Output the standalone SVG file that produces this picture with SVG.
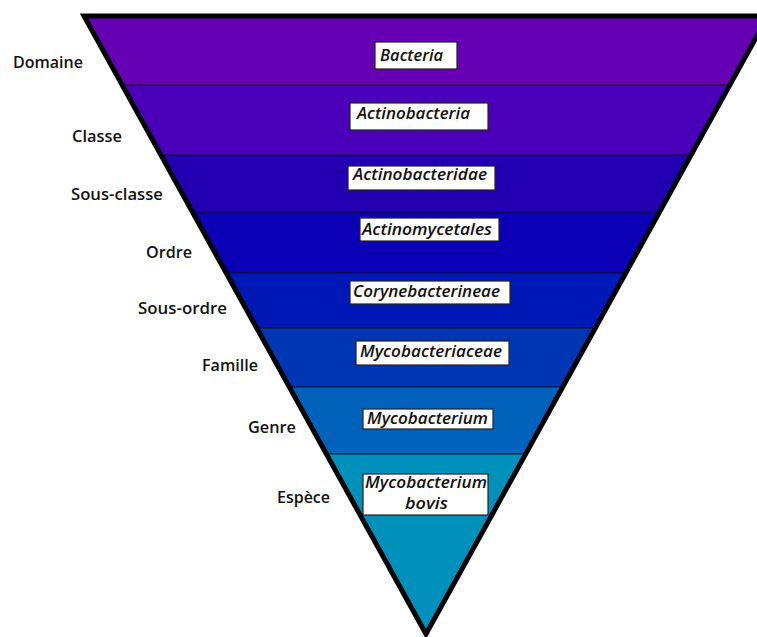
<svg xmlns="http://www.w3.org/2000/svg" width="757" height="637" viewBox="0 0 757 637">
<defs>
<clipPath id="tri"><polygon points="84,16 768,16 426,634"/></clipPath>
<style>
.lvl{font-family:"Open Sans","Liberation Sans",sans-serif;font-weight:600;font-size:15.5px;fill:#111}
.tax{font-family:"Open Sans","Liberation Sans",sans-serif;font-style:italic;font-weight:600;font-size:15.5px;fill:#111;text-anchor:start}
.box{fill:#fff;stroke:#222;stroke-width:1.2}
.sep{stroke:#111;stroke-width:1.2}
</style>
</defs>
<rect width="757" height="637" fill="#fff"/>
<g clip-path="url(#tri)">
<rect x="0" y="0" width="800" height="85" fill="#6600b4"/>
<rect x="0" y="85" width="800" height="70" fill="#4a00b8"/>
<rect x="0" y="155" width="800" height="57" fill="#2200b2"/>
<rect x="0" y="212" width="800" height="61" fill="#0c00b6"/>
<rect x="0" y="273" width="800" height="55" fill="#0018b6"/>
<rect x="0" y="328" width="800" height="59" fill="#0036b4"/>
<rect x="0" y="387" width="800" height="67" fill="#0062ba"/>
<rect x="0" y="454" width="800" height="190" fill="#0090bc"/>
</g>
<g id="separators" clip-path="url(#tri)">
<line class="sep" x1="0" y1="85" x2="800" y2="85"/>
<line class="sep" x1="0" y1="155" x2="800" y2="155"/>
<line class="sep" x1="0" y1="212" x2="800" y2="212"/>
<line class="sep" x1="0" y1="273" x2="800" y2="273"/>
<line class="sep" x1="0" y1="328" x2="800" y2="328"/>
<line class="sep" x1="0" y1="387" x2="800" y2="387"/>
<line class="sep" x1="0" y1="454" x2="800" y2="454"/>
</g>
<polygon points="84,16 768,16 426,634" fill="none" stroke="#000" stroke-width="5" stroke-linejoin="miter"/>
<g id="n-bacteria"><rect class="box" x="375" y="42" width="82" height="27"/><text class="tax" x="380" y="61" textLength="63" lengthAdjust="spacingAndGlyphs">Bacteria</text></g>
<g id="n-actinobacteria"><rect class="box" x="350" y="103" width="138" height="27"/><text class="tax" x="357" y="119" textLength="113" lengthAdjust="spacingAndGlyphs">Actinobacteria</text></g>
<g id="n-actinobacteridae"><rect class="box" x="348" y="166" width="147" height="24"/><text class="tax" x="353" y="180" textLength="134" lengthAdjust="spacingAndGlyphs">Actinobacteridae</text></g>
<g id="n-actinomycetales"><rect class="box" x="360" y="218" width="139" height="23"/><text class="tax" x="362" y="235" textLength="130" lengthAdjust="spacingAndGlyphs">Actinomycetales</text></g>
<g id="n-corynebacterineae"><rect class="box" x="350" y="281" width="160" height="23"/><text class="tax" x="353" y="297" textLength="147" lengthAdjust="spacingAndGlyphs">Corynebacterineae</text></g>
<g id="n-mycobacteriaceae"><rect class="box" x="356" y="341" width="153" height="24"/><text class="tax" x="360" y="357" textLength="142" lengthAdjust="spacingAndGlyphs">Mycobacteriaceae</text></g>
<g id="n-mycobacterium"><rect class="box" x="363" y="409" width="130" height="20"/><text class="tax" x="367" y="424" textLength="121" lengthAdjust="spacingAndGlyphs">Mycobacterium</text></g>
<g id="n-bovis"><rect class="box" x="363" y="474" width="125" height="41"/><text class="tax" x="365" y="488" textLength="122" lengthAdjust="spacingAndGlyphs">Mycobacterium</text><text class="tax" x="405" y="509" textLength="43" lengthAdjust="spacingAndGlyphs">bovis</text></g>
<g id="levels">
<text class="lvl" x="13" y="68" textLength="70" lengthAdjust="spacingAndGlyphs">Domaine</text>
<text class="lvl" x="72" y="142" textLength="50" lengthAdjust="spacingAndGlyphs">Classe</text>
<text class="lvl" x="71" y="200" textLength="92" lengthAdjust="spacingAndGlyphs">Sous-classe</text>
<text class="lvl" x="146" y="258" textLength="46" lengthAdjust="spacingAndGlyphs">Ordre</text>
<text class="lvl" x="138" y="314" textLength="89" lengthAdjust="spacingAndGlyphs">Sous-ordre</text>
<text class="lvl" x="202" y="371" textLength="56" lengthAdjust="spacingAndGlyphs">Famille</text>
<text class="lvl" x="248" y="433" textLength="48" lengthAdjust="spacingAndGlyphs">Genre</text>
<text class="lvl" x="277" y="503" textLength="53" lengthAdjust="spacingAndGlyphs">Espèce</text>
</g>
</svg>
